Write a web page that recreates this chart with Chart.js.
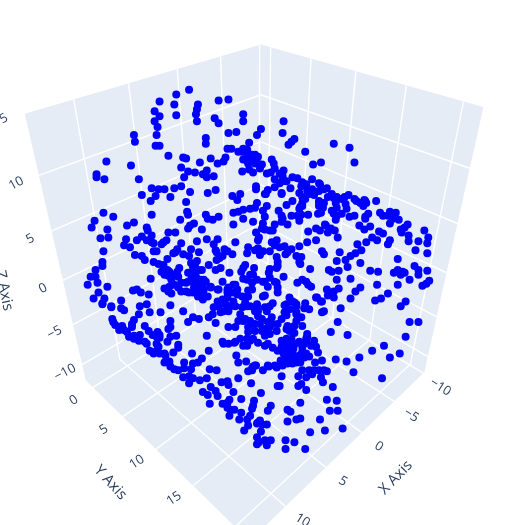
<!DOCTYPE html>
<html>
<head>
<meta charset="utf-8">
<script src="https://cdn.jsdelivr.net/npm/chart.js@4"></script>
<style>
  html, body { margin: 0; background: #fff; }
  canvas { display: block; }
</style>
</head>
<body>
<canvas id="chart" width="513" height="525"></canvas>
<script>
const markerX = [
188,175,158,173,197,218,228,153,196,195,
175,158,243,214,153,196,243,218,156,236,
228,132,155,257,205,133,205,249,154,158,
227,231,243,238,167,182,185,210,225,223,
199,217,104,129,180,187,194,206,202,206,
213,242,249,253,94,94,102,137,183,245,
248,252,255,257,253,245,250,255,258,247,
242,243,248,150,157,163,173,180,189,207,
215,232,240,256,256,140,154,169,149,185,
237,
284,261,283,295,292,289,335,351,306,356,
322,314,272,274,262,260,275,284,267,271,
280,283,275,293,298,303,313,283,280,302,
321,328,291,275,282,268,265,313,308,325,
300,315,333,329,303,306,338,350,346,343,
356,366,378,320,287,307,320,310,320,335,
101,111,92,89,150,186,187,205,207,212,
218,233,238,243,250,255,257,243,253,179,
233,132,125,105,145,146,150,193,189,187,
201,167,174,256,98,106,124,135,140,145,
150,152,122,128,165,162,160,180,196,206,
217,213,235,248,258,258,101,190,176,174,
172,152,155,215,216,224,227,232,198,182,
188,247,133,140,143,222,219,216,166,100,
100,152,157,162,190,196,194,208,245,243,
241,93,178,176,215,220,229,166,160,163,
168,163,167,170,193,201,191,195,250,253,
257,247,243,88,93,95,85,105,149,177,
173,170,180,173,168,163,167,170,177,185,
185,180,193,198,203,197,203,210,202,207,
217,197,192,202,222,233,227,237,131,135,
139,147,96,91,102,100,119,109,119,122,
138,145,169,148,159,182,137,
266,282,287,267,263,265,303,300,320,324,
322,319,337,338,333,335,338,343,337,347,
348,358,362,367,365,368,279,282,283,282,
292,298,302,300,309,351,356,370,367,367,
382,385,392,398,390,395,401,392,263,275,
288,262,265,273,270,309,317,321,327,332,
336,329,361,366,372,410,407,403,404,427,
381,385,411,431,339,374,379,259,317,308,
392,390,411,421,430,368,359,272,277,275,
280,285,300,292,288,286,263,260,270,255,
418,363,357,352,323,325,341,430,297,302,
277,300,301,278,278,338,347,362,400,349,
311,254,270,269,277,270,330,333,340,372,
380,417,421,421,430,396,400,405,403,407,
284,265,268,275,278,277,338,352,303,298,
307,309,312,412,379,400,432,429,425,328,
340,335,362,357,278,252,329,335,390,265,
317,352,383,377,323,290,287,293,297,306,
305,310,408,403,273,257,265,270,258,267,
342,285,290,325,297,
100,109,110,111,113,132,130,130,169,167,
169,143,120,117,122,125,147,151,156,158,
155,158,175,169,166,127,132,138,132,137,
187,192,198,208,212,215,206,145,143,155,
157,155,148,152,158,177,177,172,163,164,
191,208,201,197,192,183,163,168,169,173,
177,183,190,182,188,192,188,209,216,199,
206,223,228,234,243,247,250,236,238,246,
248,252,256,253,238,221,227,228,251,210,
215,217,202,207,233,209,222,229,227,241,
227,230,234,229,254,253,252,241,250,247,
239,248,244,258,257,257,
412,421,339,332,349,408,386,374,361,402,
392,337,348,355,384,319,316,323,328,325,
320,315,310,303,313,307,299,322,324,334,
302,299,307,278,280,282,261,328,338,301,
331,339,288,291,271,268,321,301,297,288,
344,326,311,260,257,262,267,261,265,271,
267,259,286,295,286,306,303,308,315,307,
312,305,283,287,292,296,286,290,294,284,
288,293,285,290,295,281,288,296,297,301,
305,310,269,277,263,255,252,282,258,265,
273,
192,198,195,190,200,205,197,202,210,193,
187,187,218,252,248,242,235,228,227,232,
237,222,217,213,218,227,233,225,230,235,
223,228,220,242,247,240,257,255,245,258,
263,263,248,243,238,235,228,252,260,255,
262,248,247,240,235,222,198,188,
295,297,285,287,297,302,297,295,303,323,
318,322,288,287,290,295,308,307,282,278,
277,272,273,248,245,250,262,268,250,255,
265,270,265,270,248,268,253,278,287,292,
282,300,317,300,307,303,283,293,268,275,
293,301,303,326,325,320
];
const markerY = [
87,92,99,102,102,98,97,109,107,112,
113,114,112,116,119,119,119,121,125,130,
131,133,133,133,136,140,142,141,144,144,
147,147,147,150,154,156,157,157,156,160,
161,162,160,164,166,170,171,169,173,176,
175,170,168,171,173,176,178,178,176,150,
152,153,153,157,158,158,160,162,155,148,
150,158,162,187,188,188,187,185,191,192,
189,195,193,185,188,194,195,196,200,201,
199,
119,127,131,137,140,143,142,146,150,161,
161,163,158,162,163,167,167,169,172,171,
172,175,178,176,177,181,178,180,182,185,
183,187,187,186,192,189,193,188,190,188,
192,194,193,196,196,198,196,194,196,198,
198,199,200,200,180,183,182,193,190,197,
212,216,220,227,214,211,214,214,218,219,
216,212,211,209,208,207,202,218,221,219,
224,222,225,229,227,230,235,223,225,228,
229,232,232,232,238,237,239,240,236,240,
242,243,245,247,240,242,244,243,241,239,
239,244,242,247,240,248,251,249,249,252,
253,251,251,250,252,249,251,254,252,254,
256,253,255,256,260,256,258,260,259,262,
266,262,264,265,263,261,265,265,265,268,
272,270,268,272,270,268,273,270,272,273,
272,275,276,275,272,270,276,277,275,275,
280,280,279,277,277,283,285,287,279,277,
275,280,283,285,287,289,292,294,288,283,
292,292,283,285,280,290,290,288,293,297,
290,297,293,300,282,285,290,290,291,290,
293,295,293,299,299,304,301,307,309,311,
307,305,306,313,313,312,315,
193,193,204,205,210,216,205,208,205,207,
212,213,202,207,210,213,215,213,219,203,
208,200,202,200,205,202,210,215,218,221,
215,215,214,220,214,216,215,213,216,218,
212,215,211,212,215,218,219,223,223,224,
224,228,229,230,230,231,228,230,225,228,
230,232,225,229,226,224,227,229,232,230,
231,233,235,237,237,237,240,237,240,242,
240,244,241,241,243,242,244,242,240,245,
247,246,246,249,252,254,251,255,251,250,
250,250,253,256,251,254,252,253,256,257,
257,262,264,262,266,261,260,263,259,267,
269,268,269,273,268,278,270,272,271,271,
272,266,270,275,271,273,270,272,275,273,
277,282,287,282,288,283,280,279,280,283,
282,285,287,280,285,285,281,284,286,290,
289,292,288,292,293,290,296,298,294,296,
298,299,299,301,302,298,305,302,305,304,
309,310,302,307,304,305,308,307,312,312,
309,306,310,312,313,
305,308,320,323,326,321,325,328,322,330,
328,327,327,331,331,333,332,336,333,336,
338,339,337,338,343,338,337,336,340,342,
323,318,320,318,315,324,337,345,343,345,
348,352,352,355,355,346,349,354,355,357,
355,352,360,364,365,364,364,363,368,371,
372,370,371,379,378,380,385,371,372,382,
380,345,345,344,347,347,342,357,364,363,
373,370,367,368,380,384,383,387,385,389,
393,398,394,397,394,406,406,402,405,401,
410,412,412,418,403,408,411,415,418,422,
422,428,433,425,440,447,
323,323,323,333,336,338,347,352,359,355,
359,361,363,374,380,354,364,362,373,372,
372,372,372,372,376,379,378,379,384,389,
386,388,392,388,388,378,395,402,403,405,
413,413,412,414,408,413,422,421,422,424,
431,433,435,423,426,427,427,434,443,443,
448,445,443,445,452,452,348,338,342,343,
347,345,345,343,343,345,350,348,350,355,
355,355,360,362,358,362,365,363,364,364,
359,358,368,369,372,367,372,348,344,347,
349,
267,270,278,280,280,282,285,288,287,288,
282,273,290,283,291,297,285,288,293,293,
295,300,302,308,307,298,302,305,307,307,
312,312,313,308,307,315,307,312,320,317,
297,282,328,322,322,328,328,325,325,332,
332,333,340,340,343,343,295,293,
303,307,313,316,315,318,322,327,327,313,
298,302,327,330,332,334,335,340,320,325,
332,318,325,297,303,307,320,323,322,325,
330,328,337,335,342,345,340,352,340,340,
342,343,348,357,355,353,367,365,367,367,
200,206,202,224,202,202
];
const xTicks = [-10, -5, 0, 5, 10];
const yTicks = [0, 5, 10, 15, 20];
const zTicks = [-10, -5, 0, 5, 10, 15];

// ranges of the box and the corners it was photographed at
const xRange = [-10.18, 13.97];
const yRange = [-1.3, 21.6];
const zRange = [-12.1, 14.9];
const backFloor = [260, 274];
const leftFloor = [83, 382];
const rightFloor = [427, 374];
const backTop = [261, 41];
const weights = { u: 0.806, v: 0.815, w: 0.788 };

const project = (x, y, z) => {
    const u = (x - xRange[0]) / (xRange[1] - xRange[0]);
    const v = (y - yRange[0]) / (yRange[1] - yRange[0]);
    const w = (z - zRange[0]) / (zRange[1] - zRange[0]);
    const d = 1 + u * (weights.u - 1) + v * (weights.v - 1) + w * (weights.w - 1);
    const px = u * weights.u * (leftFloor[0] - backFloor[0]) + v * weights.v * (rightFloor[0] - backFloor[0]) + w * weights.w * (backTop[0] - backFloor[0]);
    const py = u * weights.u * (leftFloor[1] - backFloor[1]) + v * weights.v * (rightFloor[1] - backFloor[1]) + w * weights.w * (backTop[1] - backFloor[1]);
    return [backFloor[0] + px / d, backFloor[1] + py / d];
};

const [x0, x1] = xRange;
const [y0, y1] = yRange;
const [z0, z1] = zRange;

const panes = [
    [[x0, y0, z0], [x1, y0, z0], [x1, y0, z1], [x0, y0, z1]],
    [[x0, y0, z0], [x0, y1, z0], [x0, y1, z1], [x0, y0, z1]],
    [[x0, y0, z0], [x1, y0, z0], [x1, y1, z0], [x0, y1, z0]]
];

const gridLines = [];
xTicks.forEach(t => {
    gridLines.push([[t, y0, z0], [t, y0, z1]]);
    gridLines.push([[t, y0, z0], [t, y1, z0]]);
});
yTicks.forEach(t => {
    gridLines.push([[x0, t, z0], [x0, t, z1]]);
    gridLines.push([[x0, t, z0], [x1, t, z0]]);
});
zTicks.filter(t => t < 15).forEach(t => {
    gridLines.push([[x0, y0, t], [x1, y0, t]]);
    gridLines.push([[x0, y0, t], [x0, y1, t]]);
});

const boxPlugin = {
    id: "box",
    beforeDatasetsDraw(chart) {
        const c = chart.ctx;
        const sx = chart.scales.x;
        const sy = chart.scales.y;
        const toPixel = p => {
            const [a, b] = project(p[0], p[1], p[2]);
            return [sx.getPixelForValue(a), sy.getPixelForValue(b)];
        };
        c.save();
        c.fillStyle = "#e5ecf6";
        panes.forEach(pane => {
            c.beginPath();
            pane.forEach((p, i) => {
                const [a, b] = toPixel(p);
                if (i === 0) c.moveTo(a, b); else c.lineTo(a, b);
            });
            c.closePath();
            c.fill();
        });
        c.strokeStyle = "#ffffff";
        c.lineWidth = 1.4;
        gridLines.forEach(line => {
            const [a, b] = toPixel(line[0]);
            const [e, f] = toPixel(line[1]);
            c.beginPath();
            c.moveTo(a, b);
            c.lineTo(e, f);
            c.stroke();
        });

        const label = (text, px, py, angle, size) => {
            c.save();
            c.translate(px, py);
            c.rotate(angle * Math.PI / 180);
            c.font = size + 'px "Open Sans"';
            c.fillStyle = "#2a3f5f";
            c.textAlign = "center";
            c.textBaseline = "middle";
            c.fillText(text, 0, 0);
            c.restore();
        };
        const tickText = t => (t < 0 ? "\u2212" + Math.abs(t) : String(t));
        xTicks.forEach(t => {
            const [a, b] = toPixel([t, y1, z0]);
            label(tickText(t), a + 17, b + 14, 32, 13);
        });
        yTicks.forEach(t => {
            const [a, b] = toPixel([x1, t, z0]);
            label(tickText(t), a - 19, b + 13, -33, 13);
        });
        zTicks.forEach(t => {
            const [a, b] = toPixel([x1, y0, t]);
            label(tickText(t), a - (17 + (t + 10) * 0.28), b + 8, -28, 13);
        });
        label("X Axis", sx.getPixelForValue(398), sy.getPixelForValue(481), -46, 15);
        label("Y Axis", sx.getPixelForValue(108), sy.getPixelForValue(486), 48, 15);
        label("Z Axis", sx.getPixelForValue(0), sy.getPixelForValue(291), 78, 15);
        c.restore();
    }
};

const chart = new Chart(document.getElementById("chart").getContext("2d"), {
    type: "scatter",
    data: {
        datasets: [{
            data: markerX.map((v, i) => ({ x: v, y: markerY[i] })),
            backgroundColor: "#0000ff",
            borderWidth: 0,
            pointRadius: 4,
            pointHoverRadius: 4
        }]
    },
    options: {
        responsive: false,
        animation: false,
        layout: { padding: 0 },
        plugins: { legend: { display: false }, tooltip: { enabled: false } },
        scales: {
            x: { type: "linear", min: 0, max: 513, display: false },
            y: { type: "linear", min: 0, max: 525, reverse: true, display: false }
        }
    },
    plugins: [boxPlugin]
});
</script>
</body>
</html>
